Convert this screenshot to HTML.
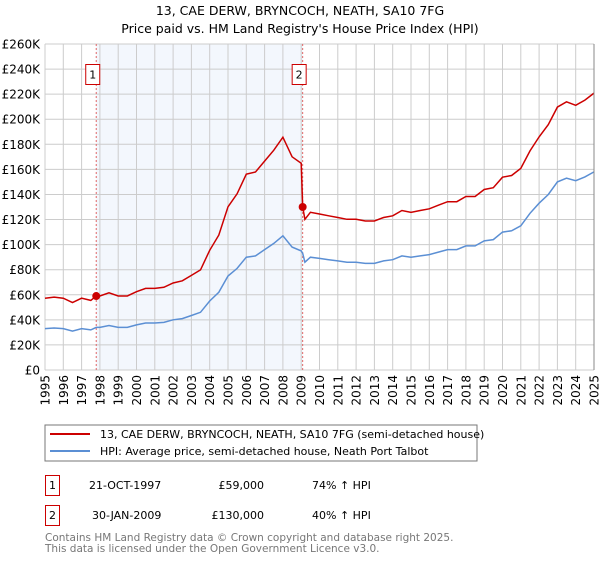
<!DOCTYPE html>
<html><head><meta charset="utf-8"><style>
body{margin:0;background:#fff;font-family:"DejaVu Sans","Liberation Sans",sans-serif;}
svg text{font-family:"DejaVu Sans","Liberation Sans",sans-serif;}
</style></head><body>
<svg id="c" width="600" height="560" xmlns="http://www.w3.org/2000/svg">
<text x="300" y="15" text-anchor="middle" font-size="12.5">13, CAE DERW, BRYNCOCH, NEATH, SA10 7FG</text>
<text x="300" y="33" text-anchor="middle" font-size="12.5">Price paid vs. HM Land Registry's House Price Index (HPI)</text>
<g id="plot"></g>
<rect x="45" y="425" width="432" height="36" fill="#fff" stroke="#777"/>
<line x1="50" y1="434" x2="90" y2="434" stroke="#cc0000" stroke-width="2"/>
<text x="100" y="438" font-size="11">13, CAE DERW, BRYNCOCH, NEATH, SA10 7FG (semi-detached house)</text>
<line x1="50" y1="451" x2="90" y2="451" stroke="#5b8fd4" stroke-width="2"/>
<text x="100" y="455" font-size="11">HPI: Average price, semi-detached house, Neath Port Talbot</text>
<g font-size="11">
<rect x="45.5" y="475.5" width="14" height="20" fill="none" stroke="#cc0000"/>
<text x="52.5" y="489" text-anchor="middle">1</text>
<text x="89" y="489">21-OCT-1997</text>
<text x="264" y="489" text-anchor="end">£59,000</text>
<text x="312" y="489">74% ↑ HPI</text>
<rect x="45.5" y="505.5" width="14" height="20" fill="none" stroke="#cc0000"/>
<text x="52.5" y="519" text-anchor="middle">2</text>
<text x="92" y="519">30-JAN-2009</text>
<text x="264" y="519" text-anchor="end">£130,000</text>
<text x="312" y="519">40% ↑ HPI</text>
</g>
<text x="45" y="541" font-size="10.5" fill="#777">Contains HM Land Registry data © Crown copyright and database right 2025.</text>
<text x="45" y="552" font-size="10.5" fill="#777">This data is licensed under the Open Government Licence v3.0.</text>
</svg>
<script>
const years=[1995,1995.5,1996,1996.5,1997,1997.5,1997.8,1998,1998.5,1999,1999.5,2000,2000.5,2001,2001.5,2002,2002.5,2003,2003.5,2004,2004.5,2005,2005.5,2006,2006.5,2007,2007.5,2008,2008.5,2009.0,2009.08,2009.2,2009.5,2010,2010.5,2011,2011.5,2012,2012.5,2013,2013.5,2014,2014.5,2015,2015.5,2016,2016.5,2017,2017.5,2018,2018.5,2019,2019.5,2020,2020.5,2021,2021.5,2022,2022.5,2023,2023.5,2024,2024.5,2025];
const hpi=[33,33.5,33,31,33,32,34,34,35.5,34,34,36,37.5,37.5,38,40,41,43.5,46,55,62,75,81,90,91,96,101,107,98,95,93,86,90,89,88,87,86,86,85,85,87,88,91,90,91,92,94,96,96,99,99,103,104,110,111,115,125,133,140,150,153,151,154,158];
const saleYears=[1997.8,2009.08];
const salePrices=[59,130];
const yTicks=[0,20,40,60,80,100,120,140,160,180,200,220,240,260];
const xTicks=[1995,1996,1997,1998,1999,2000,2001,2002,2003,2004,2005,2006,2007,2008,2009,2010,2011,2012,2013,2014,2015,2016,2017,2018,2019,2020,2021,2022,2023,2024,2025];
const NS="http://www.w3.org/2000/svg";
const X0=45,X1=594,Y0=370,Y1=44;
const xs=y=>X0+(y-1995)/30*(X1-X0);
const ys=v=>Y0-v/260*(Y0-Y1);
const g=document.getElementById('plot');
function mk(t,a){const e=document.createElementNS(NS,t);for(const k in a)e.setAttribute(k,a[k]);g.appendChild(e);return e;}
const shade=mk('rect',{x:xs(saleYears[0]),y:Y1,width:xs(saleYears[1])-xs(saleYears[0]),height:Y0-Y1,fill:'#eef3fc',opacity:0.7});


yTicks.forEach(v=>{
 const l=mk('line',{x1:X0,x2:X1,y1:ys(v),y2:ys(v),stroke:'#ccc'});
 
 
 const t=mk('text',{x:40,y:ys(v)+4.5,'text-anchor':'end','font-size':12});
 t.textContent=v===0?'£0':'£'+v+'K';
 
 
});
xTicks.forEach(y=>{
 const l=mk('line',{x1:xs(y),x2:xs(y),y1:Y1,y2:Y0,stroke:'#ccc'});
 
 
 const t=mk('text',{x:0,y:0,'text-anchor':'end','font-size':12,transform:`translate(${xs(y)+4.5},${Y0+5}) rotate(-90)`});
 t.textContent=y;
 
 
});
saleYears.forEach((sy,i)=>{
 const l=mk('line',{x1:xs(sy),x2:xs(sy),y1:Y1,y2:Y0,stroke:'#e06666','stroke-dasharray':'2,2'});
 
 
 const r=mk('rect',{x:xs(sy)-10.5,y:64.5,width:14,height:20,fill:'#fff',stroke:'#cc0000'});
 
 
 const t=mk('text',{x:xs(sy)-3.5,y:78.5,'text-anchor':'middle','font-size':11});
 t.textContent=String(i+1);
 
 
});
function interp(y){for(let i=0;i<years.length-1;i++){if(y>=years[i]&&y<=years[i+1]){const f=(y-years[i])/(years[i+1]-years[i]);return hpi[i]+f*(hpi[i+1]-hpi[i]);}}return hpi[hpi.length-1];}
const r0=salePrices[0]/interp(saleYears[0]), r1=salePrices[1]/interp(saleYears[1]);
let bp='',rp='';
years.forEach((y,i)=>{
 bp+=(i?'L':'M')+xs(y).toFixed(1)+','+ys(hpi[i]).toFixed(1);
 let v;
 if(y<saleYears[1]) v=hpi[i]*r0; else if(y===saleYears[1]) v=salePrices[1]; else v=hpi[i]*r1;
 rp+=(i?'L':'M')+xs(y).toFixed(1)+','+ys(v).toFixed(1);
 if(y<saleYears[1] && i+1<years.length && years[i+1]===saleYears[1]){}
});
const bl=mk('path',{d:bp,fill:'none',stroke:'#5b8fd4','stroke-width':1.5});


const rl=mk('path',{d:rp,fill:'none',stroke:'#cc0000','stroke-width':1.5});


saleYears.forEach((sy,i)=>{
 const c=mk('circle',{cx:xs(sy),cy:ys(salePrices[i]),r:4,fill:'#cc0000'});
 
 
});
const ax=mk('line',{x1:X1,x2:X1,y1:Y1,y2:Y0,stroke:'#888'});


</script>
</body></html>
